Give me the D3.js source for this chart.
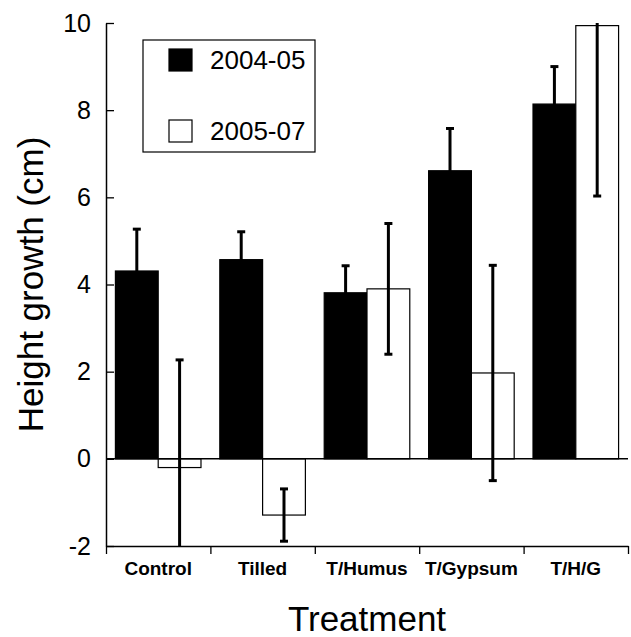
<!DOCTYPE html>
<html>
<head>
<meta charset="utf-8">
<script src="https://cdn.jsdelivr.net/npm/d3@7"></script>
<style>
  body { margin: 0; background: #fff; }
  text { font-family: "Liberation Sans", Arial, sans-serif; fill: #000; }
</style>
</head>
<body>
<div id="chart"></div>
<script>
// values
var categories = ["Control", "Tilled", "T/Humus", "T/Gypsum", "T/H/G"];
var series = ["2004-05", "2005-07"];
var growth0405 = [4.31, 4.57, 3.81, 6.61, 8.14];
var err0405 = [0.96, 0.64, 0.62, 0.97, 0.86];
var growth0507 = [-0.20, -1.29, 3.90, 1.97, 9.94];
var err0507 = [2.47, 0.60, 1.50, 2.47, 3.91];
var yTicks = [-2, 0, 2, 4, 6, 8, 10];

var width = 631, height = 637;
var margin = {top: 23, right: 3, bottom: 91, left: 106};
var plotRight = width - margin.right;
var plotBottom = height - margin.bottom;

var svg = d3.select("#chart")
  .append("svg")
    .attr("width", width)
    .attr("height", height);

var xScale = d3.scaleBand()
    .domain(categories)
    .range([margin.left, plotRight]);

var xInner = d3.scaleBand()
    .domain(series)
    .range([0, xScale.bandwidth()])
    .paddingOuter(0.22)
    .paddingInner(0);

var yScale = d3.scaleLinear()
    .domain([-2, 10])
    .range([plotBottom, margin.top]);

var fills = {"2004-05": "#000", "2005-07": "#fff"};

// table for drawing
var rows = [];
categories.forEach(function(c, i) {
  rows.push({cat: c, s: "2004-05", v: growth0405[i], e: err0405[i]});
  rows.push({cat: c, s: "2005-07", v: growth0507[i], e: err0507[i]});
});

svg.append("clipPath").attr("id", "plotclip")
  .append("rect")
    .attr("x", margin.left)
    .attr("y", yScale(10))
    .attr("width", plotRight - margin.left)
    .attr("height", yScale(-2) - yScale(10));

var g = svg.append("g");

// bars
g.selectAll(".bar")
  .data(rows)
  .enter()
  .append("rect")
    .attr("class", "bar")
    .attr("x", function(d) { return xScale(d.cat) + xInner(d.s); })
    .attr("width", xInner.bandwidth())
    .attr("y", function(d) { return yScale(Math.max(0, d.v)); })
    .attr("height", function(d) { return Math.abs(yScale(d.v) - yScale(0)); })
    .attr("fill", function(d) { return fills[d.s]; })
    .attr("stroke", "#000")
    .attr("stroke-width", 1.2);

// zero line
g.append("line")
  .attr("x1", margin.left).attr("x2", plotRight)
  .attr("y1", yScale(0)).attr("y2", yScale(0))
  .attr("stroke", "#000")
  .attr("stroke-width", 1.5);

// error bars (clipped to the axis range like the original)
var eb = g.append("g").attr("clip-path", "url(#plotclip)");
var capW = 4;
rows.forEach(function(d) {
  var cx = xScale(d.cat) + xInner(d.s) + xInner.bandwidth() / 2;
  var lo = d.v - d.e, hi = d.v + d.e;
  eb.append("line")
    .attr("x1", cx).attr("x2", cx)
    .attr("y1", yScale(lo)).attr("y2", yScale(hi))
    .attr("stroke", "#000").attr("stroke-width", 3);
  [lo, hi].forEach(function(v) {
    if (v < -2 || v > 10) return;
    eb.append("line")
      .attr("x1", cx - capW).attr("x2", cx + capW)
      .attr("y1", yScale(v)).attr("y2", yScale(v))
      .attr("stroke", "#000").attr("stroke-width", 3);
  });
});

// y axis, ticks pointing inward
var yAxis = svg.append("g")
  .attr("transform", "translate(" + margin.left + ",0)")
  .call(d3.axisLeft(yScale)
    .tickValues(yTicks)
    .tickSizeInner(-8)
    .tickSizeOuter(0)
    .tickPadding(15)
    .tickFormat(function(d) { return String(d); }));
yAxis.select(".domain").attr("stroke-width", 1.5);
yAxis.selectAll(".tick line").attr("stroke-width", 1.3);
yAxis.selectAll(".tick text")
  .style("font-family", "'Liberation Sans', Arial, sans-serif")
  .style("font-size", "25px");

// x axis: ticks at the category boundaries
var xEdge = d3.scaleLinear().domain([0, categories.length]).range([margin.left, plotRight]);
var xAxis = svg.append("g")
  .attr("transform", "translate(0," + plotBottom + ")")
  .call(d3.axisBottom(xEdge).ticks(categories.length).tickSize(8).tickSizeOuter(0).tickFormat(""));
xAxis.select(".domain").attr("stroke-width", 1.5);
xAxis.selectAll(".tick line").attr("stroke-width", 1.3);

svg.append("g")
  .selectAll("text")
  .data(categories)
  .enter()
  .append("text")
    .attr("x", function(d) { return xScale(d) + xScale.bandwidth() / 2; })
    .attr("y", 575)
    .attr("text-anchor", "middle")
    .style("font-size", "19px")
    .style("font-weight", "bold")
    .text(function(d) { return d; });

// axis titles
svg.append("text")
  .attr("x", (margin.left + plotRight) / 2)
  .attr("y", 631)
  .attr("text-anchor", "middle")
  .style("font-size", "35px")
  .text("Treatment");

svg.append("text")
  .attr("transform", "translate(43," + yScale(4) + ")rotate(-90)")
  .attr("text-anchor", "middle")
  .style("font-size", "35px")
  .text("Height growth (cm)");

// legend
var legend = svg.append("g");
legend.append("rect")
  .attr("x", 143).attr("y", 40)
  .attr("width", 172).attr("height", 112)
  .attr("fill", "#fff")
  .attr("stroke", "#000")
  .attr("stroke-width", 1.2);

var items = legend.selectAll(".item")
  .data(series)
  .enter()
  .append("g")
    .attr("class", "item")
    .attr("transform", function(d, i) { return "translate(169," + (49 + i * 71) + ")"; });

items.append("rect")
  .attr("width", 23).attr("height", 22)
  .attr("fill", function(d) { return fills[d]; })
  .attr("stroke", "#000")
  .attr("stroke-width", 1.2);

items.append("text")
  .attr("x", 41)
  .attr("y", 20)
  .style("font-size", "26px")
  .text(function(d) { return d; });
</script>
</body>
</html>
